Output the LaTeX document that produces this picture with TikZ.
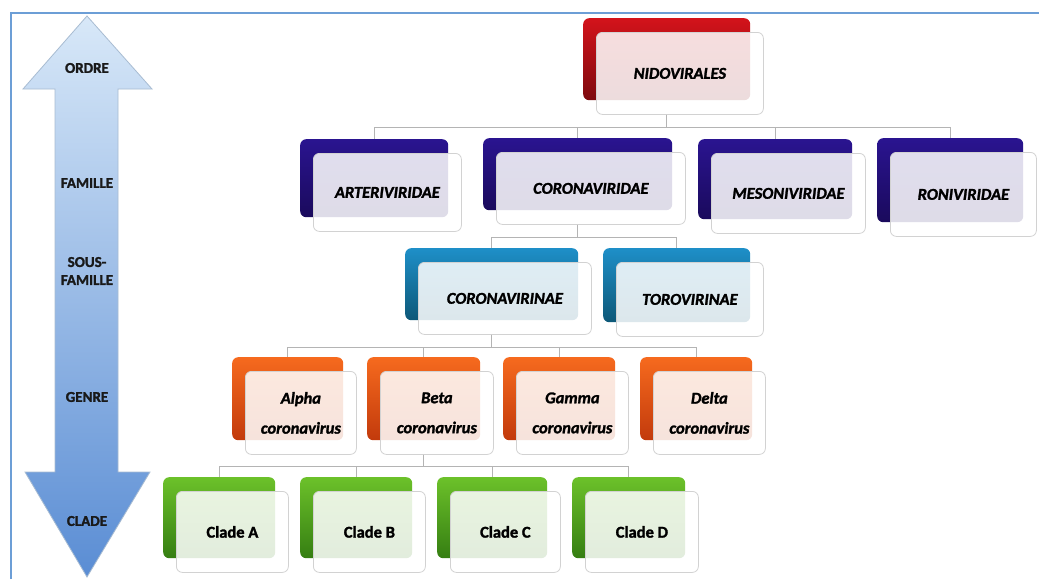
\documentclass[tikz,border=0pt]{standalone}
\usepackage{fontspec}
\setmainfont{Carlito}[BoldFeatures={FakeBold=1.6},BoldItalicFeatures={FakeBold=1.6}]
\usetikzlibrary{calc}
\definecolor{redT}{HTML}{D3131B}
\definecolor{redB}{HTML}{7E0A0E}
\definecolor{purT}{HTML}{2A1490}
\definecolor{purB}{HTML}{1A0A5C}
\definecolor{tealT}{HTML}{1E8FC8}
\definecolor{tealB}{HTML}{0D5878}
\definecolor{oraT}{HTML}{F66A1E}
\definecolor{oraB}{HTML}{C23A0C}
\definecolor{grnT}{HTML}{6CC12A}
\definecolor{grnB}{HTML}{357E12}
\definecolor{arrT}{HTML}{D8E8F8}
\definecolor{arrB}{HTML}{5A8DD4}
\definecolor{arrL}{HTML}{A8BCD2}
\definecolor{frameC}{HTML}{6C9ED6}
\definecolor{connC}{HTML}{B4B4B4}
\newcommand\tbox[8]{%
  \node[backbox, top color=#6, bottom color=#7, minimum width=#4pt, minimum height=#5pt] (#1B) at (#2,#3) {};
  \node[frontbox, minimum width=#4pt, minimum height=#5pt] (#1) at (#2+13,#3+14) {#8};
}
\begin{document}
\begin{tikzpicture}[x=1pt,y=-1pt,
  backbox/.style={anchor=north west, rounded corners=6pt, draw=none, inner sep=0pt},
  frontbox/.style={anchor=north west, rounded corners=6pt, draw=gray!35, line width=0.8pt,
    fill=white, fill opacity=0.86, text opacity=1, inner sep=0pt, align=center,
    font=\fontsize{16.5}{30}\selectfont\bfseries\itshape},
  conn/.style={draw=connC, line width=0.9pt},
  axlab/.style={font=\fontsize{15}{18}\selectfont\bfseries, text=black!90, align=center, inner sep=0pt},
]
\useasboundingbox (0,0) rectangle (1039,579);
\fill[white] (0,0) rectangle (1039,579);
% frame
\draw[frameC, line width=2pt] (11,579) -- (11,13) -- (1039,13);
% double arrow
\path[draw=arrL, line width=0.8pt, top color=arrT, bottom color=arrB]
  (87,16) -- (152,89) -- (118,89) -- (118,472) -- (150,472) -- (87,577)
  -- (25,472) -- (55,472) -- (55,89) -- (23,89) -- cycle;
\node[axlab] (lord) at (87,68) {ORDRE};
\node[axlab] (lfam) at (87,183) {FAMILLE};
\node[axlab] (lsous) at (87,271) {SOUS-\\FAMILLE};
\node[axlab] (lgen) at (87,397) {GENRE};
\node[axlab] (lcla) at (87,521) {CLADE};
% boxes
\tbox{nido}{583}{18}{167}{82}{redT}{redB}{NIDOVIRALES}
\tbox{arte}{300}{139}{148}{78}{purT}{purB}{ARTERIVIRIDAE}
\tbox{coro}{483}{138}{189}{72}{purT}{purB}{CORONAVIRIDAE}
\tbox{meso}{698}{139}{154}{80}{purT}{purB}{MESONIVIRIDAE}
\tbox{roni}{877}{138}{146}{84}{purT}{purB}{RONIVIRIDAE}
\tbox{cvin}{405}{248}{173}{72}{tealT}{tealB}{CORONAVIRINAE}
\tbox{tvin}{603}{248}{147}{74}{tealT}{tealB}{TOROVIRINAE}
\tbox{alph}{232}{357}{111}{83}{oraT}{oraB}{Alpha\\coronavirus}
\tbox{beta}{367}{357}{113}{83}{oraT}{oraB}{Beta\\coronavirus}
\tbox{gamm}{503}{357}{112}{83}{oraT}{oraB}{Gamma\\coronavirus}
\tbox{delt}{640}{357}{112}{83}{oraT}{oraB}{Delta\\coronavirus}
\tbox{clA}{163}{477}{112}{81}{grnT}{grnB}{\upshape Clade A}
\tbox{clB}{300}{477}{112}{81}{grnT}{grnB}{\upshape Clade B}
\tbox{clC}{437}{477}{110}{81}{grnT}{grnB}{\upshape Clade C}
\tbox{clD}{572}{477}{113}{81}{grnT}{grnB}{\upshape Clade D}
% connectors
\foreach \c in {arte,coro,meso,roni}
  \draw[conn] (nidoB.center |- nido.south) -- ++(0,13) -| (\c B.north);
\foreach \c in {cvin,tvin}
  \draw[conn] (coroB.center |- coro.south) -- ++(0,13) -| (\c B.north);
\foreach \c in {alph,beta,gamm,delt}
  \draw[conn] (cvinB.center |- cvin.south) -- ++(0,13) -| (\c B.north);
\foreach \c in {clA,clB,clC,clD}
  \draw[conn] (betaB.center |- beta.south) -- ++(0,12) -| (\c B.north);
\end{tikzpicture}
\end{document}
